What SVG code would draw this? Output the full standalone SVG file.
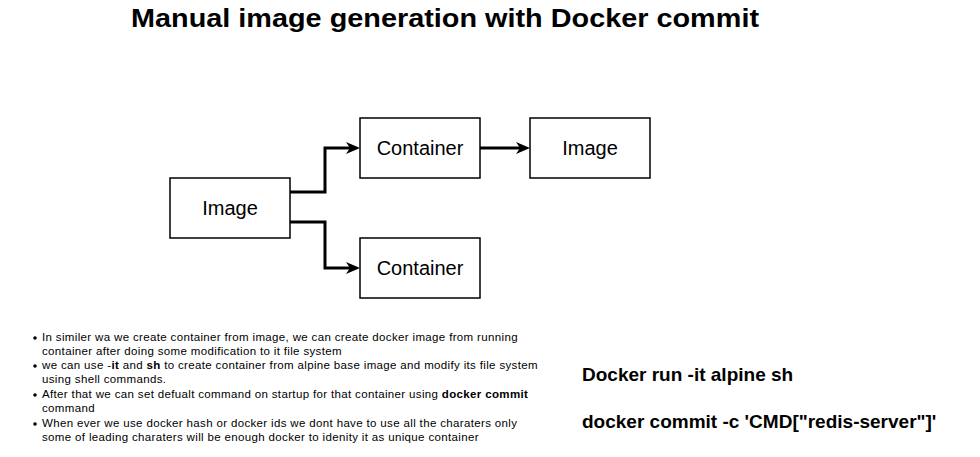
<svg xmlns="http://www.w3.org/2000/svg" width="980" height="457" viewBox="0 0 980 457">
<style>
.box{fill:#fff;stroke:#000;stroke-width:1.5}
.lbl{font-family:"Liberation Sans",Arial,sans-serif;font-size:20px;text-anchor:middle;fill:#000}
.edge{fill:none;stroke:#000;stroke-width:3}
.note{font-family:"Liberation Sans",Arial,sans-serif;font-size:11.5px;letter-spacing:0.35px;fill:#000}
.cmd{font-family:"Liberation Sans",Arial,sans-serif;font-size:19px;font-weight:bold;fill:#000}
</style>
<defs>
<marker id="arr" viewBox="0 0 14 12" refX="8" refY="6" markerWidth="14" markerHeight="12" markerUnits="userSpaceOnUse" orient="auto">
<path d="M0,0 L14,6 L0,12 L4,6 Z" fill="#000"/>
</marker>
</defs>
<rect width="980" height="457" fill="#fff"/>
<text x="445" y="27" font-family="Liberation Sans,Arial,sans-serif" font-size="26" font-weight="bold" text-anchor="middle" textLength="628" lengthAdjust="spacingAndGlyphs">Manual image generation with Docker commit</text>
<g id="connectors">
<path class="edge" d="M290,192 H325 V148 H354" marker-end="url(#arr)"/>
<path class="edge" d="M290,222 H325 V268 H354" marker-end="url(#arr)"/>
<path class="edge" d="M480,148 H524" marker-end="url(#arr)"/>
</g>
<g id="image1"><rect class="box" x="170" y="178" width="120" height="60"/><text class="lbl" x="230" y="215">Image</text></g>
<g id="container1"><rect class="box" x="360" y="118" width="120" height="60"/><text class="lbl" x="420" y="155">Container</text></g>
<g id="image2"><rect class="box" x="530" y="118" width="120" height="60"/><text class="lbl" x="590" y="155">Image</text></g>
<g id="container2"><rect class="box" x="360" y="238" width="120" height="60"/><text class="lbl" x="420" y="275">Container</text></g>
<g id="notes">
<circle cx="35" cy="338" r="1.8"/><circle cx="35" cy="366" r="1.8"/><circle cx="35" cy="395" r="1.8"/><circle cx="35" cy="424" r="1.8"/>
<text class="note" x="42" y="341">In similer wa we create container from image, we can create docker image from running</text>
<text class="note" x="42" y="355">container after doing some modification to it file system</text>
<text class="note" x="42" y="369">we can use -<tspan font-weight="bold">it</tspan> and <tspan font-weight="bold">sh</tspan> to create container from alpine base image and modify its file system</text>
<text class="note" x="42" y="383">using shell commands.</text>
<text class="note" x="42" y="398">After that we can set defualt command on startup for that container using <tspan font-weight="bold">docker commit</tspan></text>
<text class="note" x="42" y="412">command</text>
<text class="note" x="42" y="427">When ever we use docker hash or docker ids we dont have to use all the charaters only</text>
<text class="note" x="42" y="441">some of leading charaters will be enough docker to idenity it as unique container</text>
</g>
<g id="commands">
<text class="cmd" x="582" y="381">Docker run -it alpine sh</text>
<text class="cmd" x="582" y="428">docker commit -c 'CMD["redis-server"]'</text>
</g>
</svg>
